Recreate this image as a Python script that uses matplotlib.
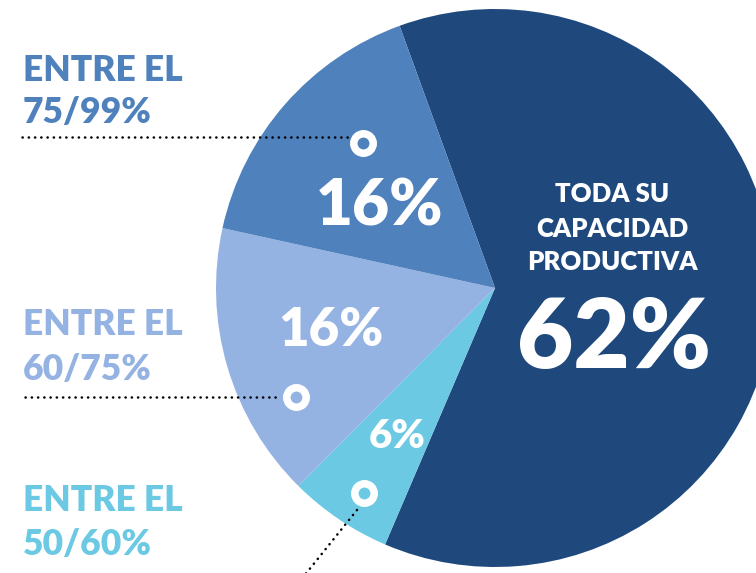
import matplotlib
matplotlib.use("Agg")
import matplotlib.pyplot as plt

plt.rcParams['font.family'] = ['Lato', 'DejaVu Sans']

# ---- data ----
categories = ["TODA SU CAPACIDAD PRODUCTIVA", "ENTRE EL 50/60%", "ENTRE EL 60/75%", "ENTRE EL 75/99%"]
values = [62, 6, 16, 16]
colors = ["#1F497D", "#6BC9E3", "#95B3E2", "#4F81BD"]
side_label_top = ["ENTRE EL", "ENTRE EL", "ENTRE EL"]
side_label_bottom = ["50/60%", "60/75%", "75/99%"]
center_lines = ["TODA SU", "CAPACIDAD", "PRODUCTIVA"]

W, H = 756, 573
fig = plt.figure(figsize=(W / 100, H / 100), dpi=100)
ax = fig.add_axes([0, 0, 1, 1])


def Y(py):
    return H - py


ax.pie(values, colors=colors, startangle=110, counterclock=False,
       center=(495, Y(288)), radius=279, frame=True,
       wedgeprops=dict(linewidth=0))
ax.set_xlim(0, W)
ax.set_ylim(0, H)
ax.set_aspect('equal')
ax.axis('off')

# ---- percentage labels inside slices ----
pct_pos = [(614, 368, 70), (397, 448, 29), (331, 346, 38), (380, 225, 46)]
for v, (px, py, fs) in zip(values, pct_pos):
    ax.text(px, Y(py), f"{v}%", color="white", fontsize=fs, fontweight="heavy",
            ha="center", va="baseline")

# centre description of the big slice
for line, py in zip(center_lines, [202, 237, 270]):
    ax.text(612, Y(py), line, color="white", fontsize=18.5, fontweight="heavy",
            ha="center", va="baseline")

# ---- side labels ----
label_pos = [(511, 555), (335, 380), (81, 123)]
for i, (top, bot, (y1, y2)) in enumerate(zip(side_label_top, side_label_bottom, label_pos)):
    c = colors[i + 1]
    ax.text(23, Y(y1), top, color=c, fontsize=25.5, fontweight="heavy", ha="left", va="baseline")
    ax.text(23, Y(y2), bot, color=c, fontsize=25.5, fontweight="heavy", ha="left", va="baseline")

# ---- leader lines and ring markers ----
dot_style = dict(color="black", lw=1.8, linestyle=(0, (0.1, 2.4)), dash_capstyle="round")
# 75/99
ax.plot([22, 349], [Y(137), Y(137)], **dot_style)
ax.plot([363], [Y(143)], marker="o", ms=14, mew=5.4, mfc="none", mec="white")
# 60/75
ax.plot([25, 281], [Y(397), Y(397)], **dot_style)
ax.plot([296], [Y(397)], marker="o", ms=14, mew=5.4, mfc="none", mec="white")
# 50/60
ax.plot([357, 300], [Y(510), Y(581)], **dot_style)
ax.plot([364], [Y(493)], marker="o", ms=14, mew=5.4, mfc="none", mec="white")

fig.savefig("out.png", dpi=100)
